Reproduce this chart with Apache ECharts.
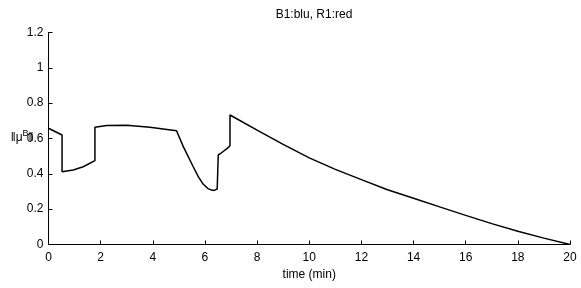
<!DOCTYPE html>
<html>
<head>
<meta charset="utf-8">
<script src="https://cdn.jsdelivr.net/npm/echarts@6/dist/echarts.min.js"></script>
<style>
  html, body { margin: 0; padding: 0; background: #fff; }
  #chart { width: 581px; height: 288px; }
</style>
</head>
<body>
<div id="chart"></div>
<script>
// ||mu^B|| over time
const timeMin = [
  0, 0.52, 0.52, 0.95, 1.33, 1.78, 1.78, 2.23, 3.0, 3.89, 4.91,
  5.17, 5.55, 5.75, 5.93, 6.1, 6.25, 6.35, 6.47, 6.51, 6.51, 6.6, 6.89, 6.96, 6.96,
  8, 9, 10, 11, 12, 13, 14, 15, 16, 17, 18, 19, 20
]
const normMu = [
  0.658, 0.62, 0.412, 0.422, 0.44, 0.475, 0.664, 0.673, 0.675, 0.664, 0.644,
  0.554, 0.44, 0.383, 0.342, 0.318, 0.308, 0.306, 0.314, 0.32, 0.507, 0.515, 0.548, 0.56, 0.733,
  0.647, 0.567, 0.49, 0.425, 0.367, 0.31, 0.262, 0.213, 0.165, 0.118, 0.075, 0.036, 0
]
const xTicks = [0, 20, 2]   // min, max, step
const yTicks = [0, 1.2, 0.2]

const font = 'Liberation Sans, Arial, sans-serif'
const chart = echarts.init(document.getElementById('chart'))

chart.setOption({
  animation: false,
  title: {
    text: 'B1:blu, R1:red',
    left: 309,
    top: 4,
    textAlign: 'center',
    textStyle: { fontFamily: font, fontSize: 12, fontWeight: 'normal', color: '#000' }
  },
  grid: { left: 48.5, right: 11, top: 32.5, bottom: 43.5, outerBoundsMode: 'none' },
  xAxis: {
    type: 'value',
    min: xTicks[0],
    max: xTicks[1],
    interval: xTicks[2],
    name: 'time (min)',
    nameLocation: 'middle',
    nameGap: 22,
    nameTextStyle: { fontFamily: font, fontSize: 12, color: '#000' },
    axisLine: { lineStyle: { color: '#000', width: 1 } },
    axisTick: { inside: true, length: 4, lineStyle: { color: '#000' } },
    axisLabel: { fontFamily: font, fontSize: 12, color: '#000', margin: 7 },
    splitLine: { show: false }
  },
  yAxis: {
    type: 'value',
    min: yTicks[0],
    max: yTicks[1],
    interval: yTicks[2],
    // the original label sits on top of the 0.6 tick label
    name: '{a|‖μ}{b|B}{a|‖}',
    nameLocation: 'middle',
    nameRotate: 0,
    nameGap: 15,
    nameMoveOverlap: false,
    nameTextStyle: {
      padding: [0, 0, 2, 0],
      rich: {
        a: { fontFamily: font, fontSize: 12, color: '#000' },
        b: { fontFamily: font, fontSize: 9, color: '#000', verticalAlign: 'bottom', padding: [0, 0, 8, 0] }
      }
    },
    axisLine: { show: true, lineStyle: { color: '#000', width: 1 } },
    axisTick: { show: true, inside: true, length: 4, lineStyle: { color: '#000' } },
    axisLabel: { fontFamily: font, fontSize: 12, color: '#000', margin: 5 },
    splitLine: { show: false }
  },
  series: [
    {
      type: 'line',
      data: timeMin.map((t, i) => [t, normMu[i]]),
      showSymbol: false,
      lineStyle: { color: '#000', width: 1.5 }
    }
  ]
})
</script>
</body>
</html>
